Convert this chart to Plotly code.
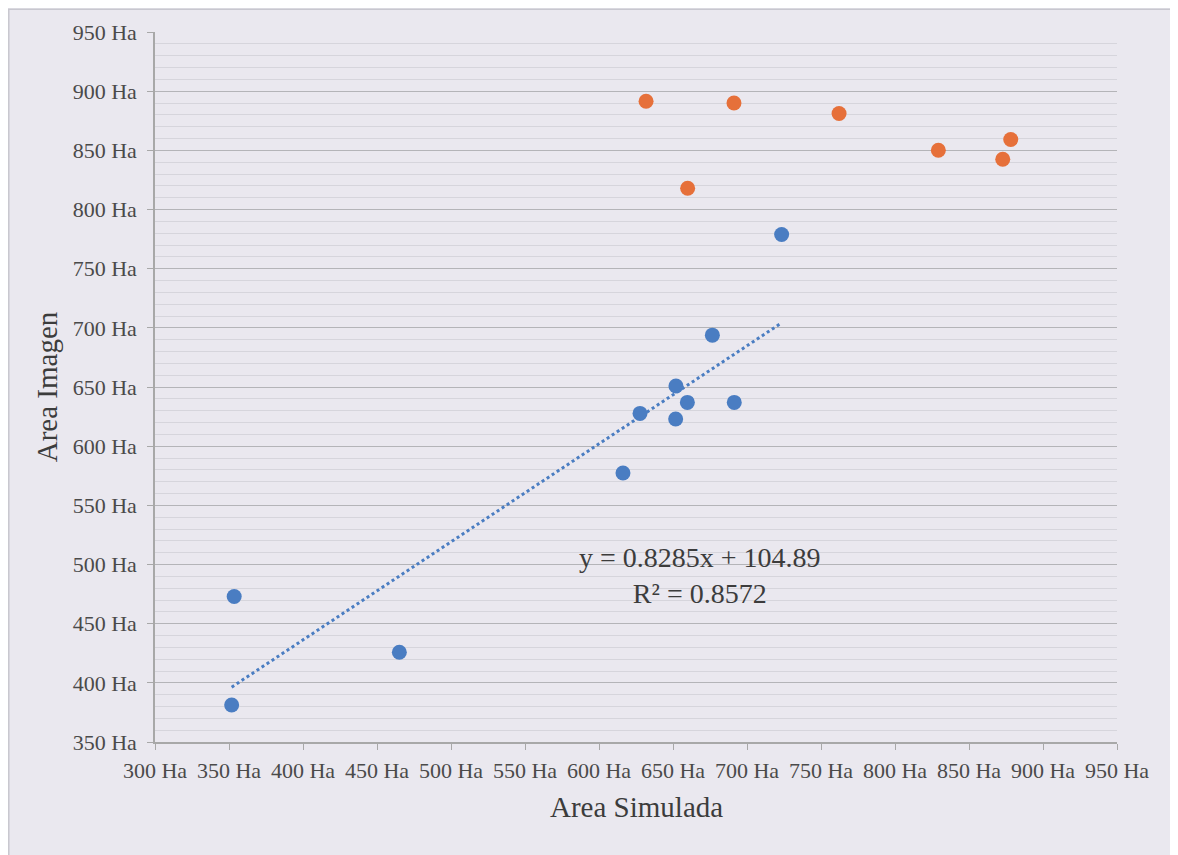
import plotly.graph_objects as go

# Data (Ha)
blue_x = [353.5, 351.8, 465.1, 616.2, 627.7, 651.8, 652.0, 659.7, 676.6, 691.4, 723.4]
blue_y = [473.0, 381.3, 425.8, 577.3, 627.7, 622.9, 650.8, 637.0, 693.8, 637.0, 778.9]
orange_x = [631.8, 691.2, 762.2, 659.9, 829.3, 878.2, 872.8]
orange_y = [891.5, 890.0, 881.1, 818.0, 850.1, 859.1, 842.5]
slope, intercept, r2 = 0.8285, 104.89, 0.8572
x_ticks = list(range(300, 951, 50))
y_ticks = list(range(350, 951, 50))

BLUE = "#4a7dc2"
ORANGE = "#e6703a"
BG = "#eae8ef"
FONT = "Liberation Serif"
TICK_C = "#4a4a4a"
TITLE_C = "#3c3c3c"

trend_x = [min(blue_x), max(blue_x)]
trend_y = [slope * v + intercept for v in trend_x]

fig = go.Figure()
fig.add_trace(go.Scatter(x=trend_x, y=trend_y, mode="lines",
                         line=dict(color=BLUE, width=3, dash="dot"),
                         hoverinfo="skip", showlegend=False))
fig.add_trace(go.Scatter(x=blue_x, y=blue_y, mode="markers",
                         marker=dict(color=BLUE, size=15), showlegend=False))
fig.add_trace(go.Scatter(x=orange_x, y=orange_y, mode="markers",
                         marker=dict(color=ORANGE, size=15), showlegend=False))

fig.add_annotation(x=668, y=491, xref="x", yref="y",
                   text=f"y = {slope}x + {intercept}<br>R² = {r2}",
                   showarrow=False, align="center",
                   font=dict(family=FONT, size=28, color=TITLE_C))

# axis titles
fig.add_annotation(x=0.501, y=-0.092, xref="paper", yref="paper",
                   text="Area Simulada", showarrow=False,
                   xanchor="center", yanchor="middle",
                   font=dict(family=FONT, size=29, color=TITLE_C))
fig.add_annotation(x=-0.112, y=0.5, xref="paper", yref="paper",
                   text="Area Imagen", showarrow=False, textangle=-90,
                   xanchor="center", yanchor="middle",
                   font=dict(family=FONT, size=29, color=TITLE_C))

fig.update_layout(
    width=1178, height=855,
    paper_bgcolor=BG, plot_bgcolor=BG,
    margin=dict(l=147, r=69, t=24, b=121),
    font=dict(family=FONT, color=TICK_C, size=22),
    xaxis=dict(range=[300, 950], tickvals=x_ticks,
               ticktext=[f"{v} Ha" for v in x_ticks],
               showgrid=False, zeroline=False,
               showline=True, linecolor="#a8a8a8", linewidth=1.5,
               ticks="outside", ticklen=6, tickcolor="#a8a8a8",
               ticklabelstandoff=2,
               tickfont=dict(family=FONT, size=22, color=TICK_C)),
    yaxis=dict(range=[350, 950], tickvals=y_ticks,
               ticktext=[f"{v} Ha" for v in y_ticks],
               showgrid=True, gridcolor="#b4b4b8", gridwidth=1.2,
               zeroline=False,
               showline=True, linecolor="#a8a8a8", linewidth=1.5,
               ticks="outside", ticklen=6, tickcolor="#a8a8a8",
               ticklabelstandoff=6,
               tickfont=dict(family=FONT, size=22, color=TICK_C),
               minor=dict(dtick=10, showgrid=True, gridcolor="#d6d5dc", gridwidth=1)),
)

fig.add_shape(type="rect", xref="paper", yref="paper",
              x0=-0.152, x1=1.063, y0=-0.163, y1=1.032,
              line=dict(color="#c8c7cf", width=1.5), fillcolor="rgba(0,0,0,0)")

fig.write_html("out.html")
